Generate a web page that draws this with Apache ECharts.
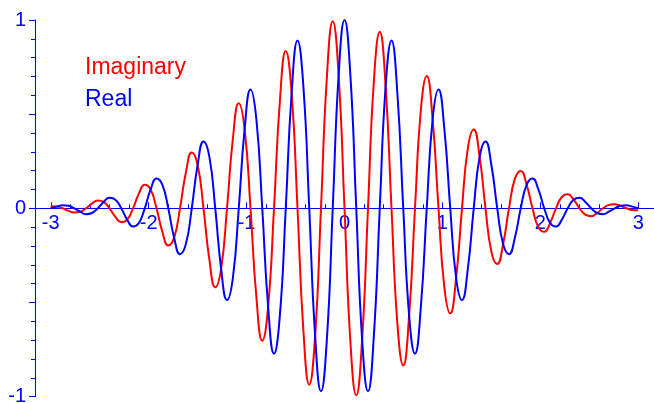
<!DOCTYPE html>
<html>
<head>
<meta charset="utf-8">
<script src="https://cdn.jsdelivr.net/npm/echarts@6/dist/echarts.min.js"></script>
<style>
html,body{margin:0;padding:0;background:#fff;}
#chart{width:654px;height:403px;}
</style>
</head>
<body>
<div id="chart"></div>
<script>
const xValues = [
 -3, -2.94, -2.88, -2.82, -2.76, -2.7, -2.64, -2.58, -2.52, -2.46,
 -2.4, -2.34, -2.28, -2.22, -2.16, -2.1, -2.04, -1.98, -1.92, -1.86,
 -1.8, -1.74, -1.68, -1.62, -1.56, -1.5, -1.44, -1.38, -1.32, -1.26,
 -1.2, -1.14, -1.08, -1.02, -0.96, -0.9, -0.84, -0.78, -0.72, -0.66,
 -0.6, -0.54, -0.48, -0.42, -0.36, -0.3, -0.24, -0.18, -0.12, -0.06,
 0,
 0.06, 0.12, 0.18, 0.24, 0.3, 0.36, 0.42, 0.48, 0.54, 0.6,
 0.66, 0.72, 0.78, 0.84, 0.9, 0.96, 1.02, 1.08, 1.14, 1.2,
 1.26, 1.32, 1.38, 1.44, 1.5, 1.56, 1.62, 1.68, 1.74, 1.8,
 1.86, 1.92, 1.98, 2.04, 2.1, 2.16, 2.22, 2.28, 2.34, 2.4,
 2.46, 2.52, 2.58, 2.64, 2.7, 2.76, 2.82, 2.88, 2.94, 3
];
// Real part (blue)
const realValues = [
 0, .009, .016, .013, 0, -.018, -.031, -.025, 0, .034,
 .056, .046, 0, -.060, -.097, -.078, 0, .100, .158, .125,
 0, -.156, -.244, -.190, 0, .230, .355, .273, 0, -.320,
 -.487, -.369, 0, .420, .631, .472, 0, -.522, -.772, -.569,
 0, .611, .891, .647, 0, -.676, -.972, -.696, 0, .706,
 1,
 .706, 0, -.696, -.972, -.676, 0, .647, .891, .611, 0,
 -.569, -.772, -.522, 0, .472, .631, .420, 0, -.369, -.487,
 -.320, 0, .273, .355, .230, 0, -.190, -.244, -.156, 0,
 .125, .158, .100, 0, -.078, -.097, -.060, 0, .046, .056,
 .034, 0, -.025, -.031, -.018, 0, .013, .016, .009, 0
];
// Imaginary part (red)
const imagValues = [
 .011, .009, 0, -.013, -.022, -.018, 0, .025, .042, .034,
 0, -.046, -.074, -.060, 0, .078, .125, .100, 0, -.125,
 -.198, -.156, 0, .190, .296, .230, 0, -.273, -.419, -.320,
 0, .369, .558, .420, 0, -.472, -.703, -.522, 0, .569,
 .835, .611, 0, -.647, -.937, -.676, 0, .696, .993, .706,
 0,
 -.706, -.993, -.696, 0, .676, .937, .647, 0, -.611, -.835,
 -.569, 0, .522, .703, .472, 0, -.420, -.558, -.369, 0,
 .320, .419, .273, 0, -.230, -.296, -.190, 0, .156, .198,
 .125, 0, -.100, -.125, -.078, 0, .060, .074, .046, 0,
 -.034, -.042, -.025, 0, .018, .022, .013, 0, -.009, -.011
];
const xTickLabels = [-3, -2, -1, 0, 1, 2, 3];
const xMinorTicks = [-3, -2.8, -2.6, -2.4, -2.2, -2, -1.8, -1.6, -1.4, -1.2, -1, -0.8, -0.6, -0.4, -0.2, 0,
  0.2, 0.4, 0.6, 0.8, 1, 1.2, 1.4, 1.6, 1.8, 2, 2.2, 2.4, 2.6, 2.8, 3];
const seriesNames = ['Imaginary', 'Real'];

const BLUE = '#0000ff';
const RED = '#ff0000';
const FONT = 'Liberation Sans, Arial, sans-serif';

const GRID_TOP = 20, GRID_H = 376.6;
const ZERO_OFFSET = -GRID_H / 2; // x axis drawn through y = 0

function pairs(ys) { return xValues.map((x, i) => [x, ys[i]]); }

const chart = echarts.init(document.getElementById('chart'), null, {renderer: 'canvas'});
chart.setOption({
  animation: false,
  backgroundColor: '#ffffff',
  grid: {left: 35, width: 619, top: GRID_TOP, height: GRID_H, containLabel: false, outerBoundsMode: 'none'},
  legend: {
    show: true,
    orient: 'vertical',
    left: 75, top: 51,
    icon: 'none',
    itemWidth: 0,
    itemHeight: 23,
    itemGap: 9,
    selectedMode: false,
    textStyle: {fontFamily: FONT, fontSize: 23},
    data: [
      {name: seriesNames[0], textStyle: {color: RED}},
      {name: seriesNames[1], textStyle: {color: BLUE}}
    ]
  },
  xAxis: [
    {
      type: 'value', min: -3.161, max: 3.161,
      position: 'bottom', offset: ZERO_OFFSET,
      axisLine: {show: true, onZero: false, lineStyle: {color: BLUE, width: 1}},
      axisTick: {show: true, inside: true, length: 6, customValues: xTickLabels, lineStyle: {color: BLUE}},
      axisLabel: {show: true, customValues: xTickLabels, margin: 5, color: BLUE, fontFamily: FONT, fontSize: 20},
      splitLine: {show: false}
    },
    {
      type: 'value', min: -3.161, max: 3.161,
      position: 'bottom', offset: ZERO_OFFSET,
      axisLine: {show: false, onZero: false},
      axisTick: {show: true, inside: true, length: 4, customValues: xMinorTicks, lineStyle: {color: BLUE}},
      axisLabel: {show: false},
      splitLine: {show: false}
    }
  ],
  yAxis: {
    type: 'value', min: -1, max: 1, interval: 0.5,
    axisLine: {show: true, onZero: false, lineStyle: {color: BLUE, width: 1}},
    axisTick: {show: true, length: 6, lineStyle: {color: BLUE}},
    minorTick: {show: true, splitNumber: 5, length: 4, lineStyle: {color: BLUE}},
    axisLabel: {
      color: BLUE, fontFamily: FONT, fontSize: 20, margin: 9,
      formatter: v => (Math.abs(v - Math.round(v)) < 1e-9 ? String(Math.round(v)) : '')
    },
    splitLine: {show: false}
  },
  series: [
    {
      name: seriesNames[0], type: 'line', xAxisIndex: 0, data: pairs(imagValues),
      smooth: true, showSymbol: false, symbol: 'none',
      lineStyle: {color: RED, width: 2}, itemStyle: {color: RED}
    },
    {
      name: seriesNames[1], type: 'line', xAxisIndex: 0, data: pairs(realValues),
      smooth: true, showSymbol: false, symbol: 'none',
      lineStyle: {color: BLUE, width: 2}, itemStyle: {color: BLUE}
    }
  ]
});
</script>
</body>
</html>
